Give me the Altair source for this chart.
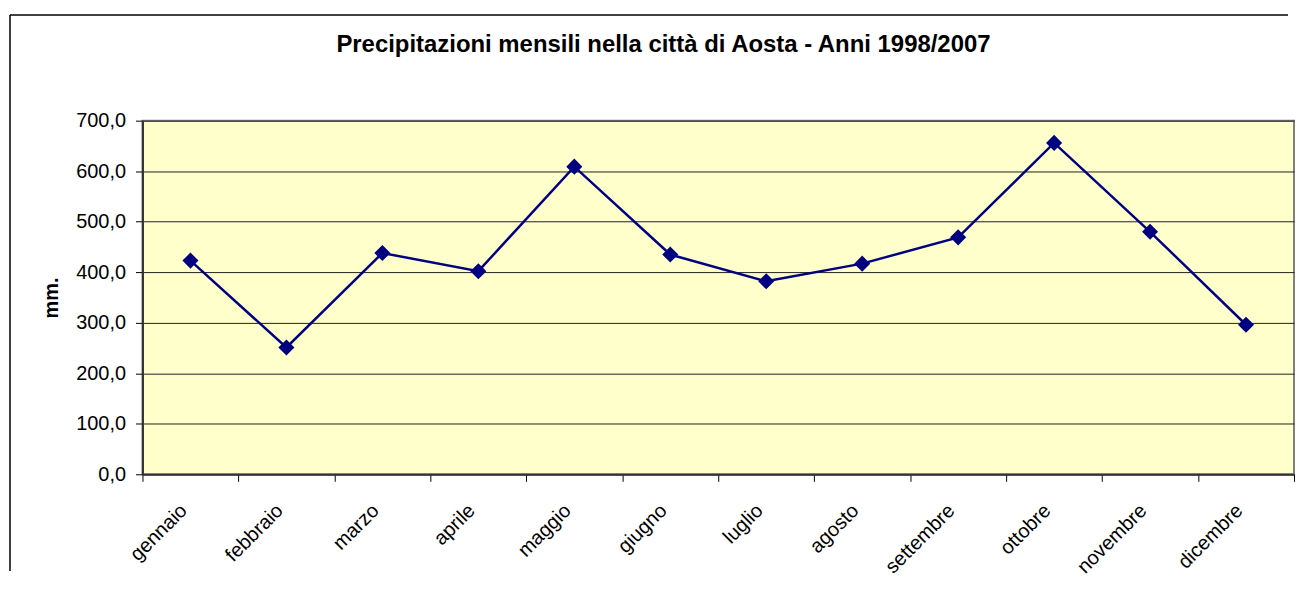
import json
import altair as alt
import pandas as pd

months = ["gennaio", "febbraio", "marzo", "aprile", "maggio", "giugno",
          "luglio", "agosto", "settembre", "ottobre", "novembre", "dicembre"]
rain_mm = [423, 251, 438, 402, 609, 435, 382, 417, 469, 656, 480, 296]
y_ticks = [0, 100, 200, 300, 400, 500, 600, 700]
title_text = "Precipitazioni mensili nella città di Aosta - Anni 1998/2007"
y_title = "mm."

df = pd.DataFrame({"mese": months, "mm": rain_mm})

FONT = "Liberation Sans"
NAVY = "#000080"

x_vals = [i * 0.5 for i in range(2 * len(months) + 1)]
months_js = json.dumps(months)

x_enc = alt.X(
    "pos:Q",
    scale=alt.Scale(domain=[0, len(months)], nice=False, zero=False),
    axis=alt.Axis(
        values=x_vals,
        title=None,
        grid=False,
        labelExpr=f"(datum.value % 1 == 0.5) ? {months_js}[floor(datum.value)] : ''",
        labelAngle=-45,
        labelAlign="right",
        labelBaseline="middle",
        labelPadding=26,
        labelOffset=-7,
        labelOverlap=False,
        labelFlush=False,
        labelFont=FONT,
        labelFontSize=20,
        labelColor="#000000",
        tickSize=7,
        tickColor="#000000",
        tickOpacity={"condition": {"test": "datum.value % 1 == 0", "value": 1}, "value": 0},
        domainColor="#333333",
        domainWidth=2,
    ),
)

y_enc = alt.Y(
    "mm:Q",
    scale=alt.Scale(domain=[0, 700], nice=False),
    axis=alt.Axis(
        values=y_ticks,
        title=y_title,
        titleFont=FONT,
        titleFontSize=20,
        titleFontWeight="bold",
        titleColor="#000000",
        titlePadding=14,
        labelExpr="replace(format(datum.value, '.1f'), '.', ',')",
        labelFont=FONT,
        labelFontSize=20,
        labelColor="#000000",
        labelPadding=10,
        tickSize=7,
        tickColor="#000000",
        domainColor="#333333",
        domainWidth=2,
        grid=True,
        gridColor="#222222",
        gridWidth=1,
    ),
)

base = alt.Chart(df).transform_window(
    idx="row_number()"
).transform_calculate(
    pos="datum.idx - 0.5"
)

line = base.mark_line(color=NAVY, strokeWidth=2.5).encode(x=x_enc, y=y_enc)
points = base.mark_point(shape="diamond", filled=True, color=NAVY, size=260, opacity=1).encode(
    x="pos:Q", y="mm:Q"
)

frame_data = alt.Data(values=[{"f": 1}])
frame_left = alt.Chart(frame_data).mark_rule(color="#000000", strokeWidth=1.5).encode(
    x=alt.value(-133), y=alt.value(-106), y2=alt.value(452)
)
frame_top = alt.Chart(frame_data).mark_rule(color="#000000", strokeWidth=1.5).encode(
    x=alt.value(-133), x2=alt.value(1150), y=alt.value(-106)
)

chart = alt.layer(line, points, frame_left, frame_top).properties(
    width=1156,
    height=355,
    padding={"left": 1, "top": 5, "right": 0, "bottom": 0},
    background="#ffffff",
    title=alt.TitleParams(
        text=title_text,
        font=FONT,
        fontSize=24,
        fontWeight="bold",
        color="#000000",
        anchor="middle",
        frame="group",
        baseline="alphabetic",
        dx=-55,
        offset=-62,
    ),
).configure_view(
    fill="#FFFFCC",
    stroke="#808080",
    strokeWidth=2,
)

chart.save("out.html", embed_options={"renderer": "svg", "actions": False})
